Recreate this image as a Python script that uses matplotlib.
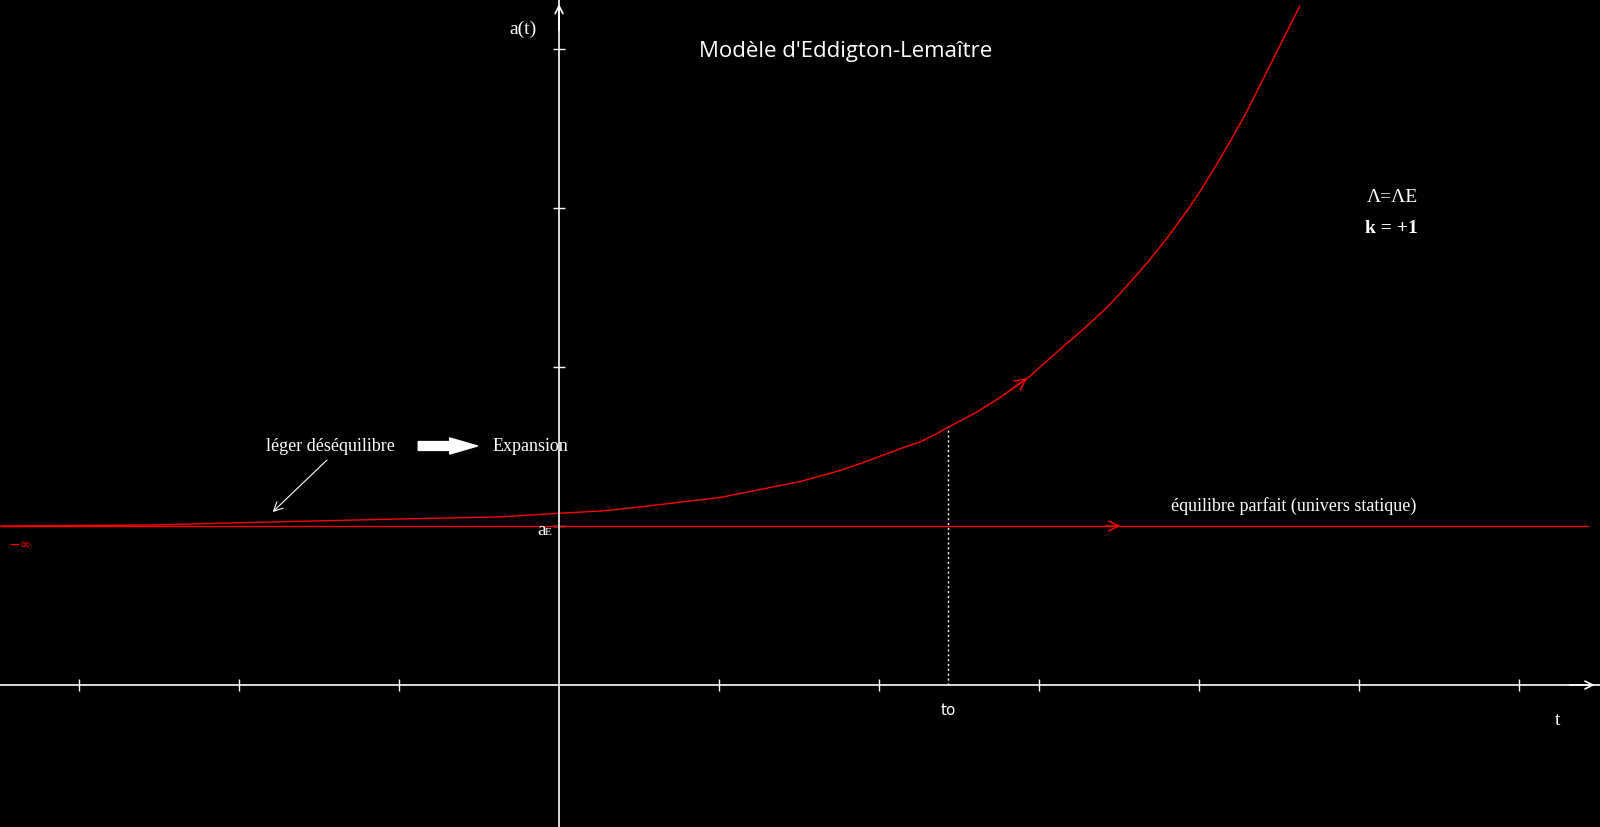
import matplotlib
matplotlib.use("Agg")
import matplotlib.pyplot as plt

# curve a(t) (t in tick units, a in tick units)
curve_t = [-3.49, -2.56, -1.81, -0.99, -0.37, 0.0, 0.26, 0.51, 0.76, 1.01, 1.26,
           1.51, 1.76, 1.89, 2.01, 2.13, 2.26, 2.35, 2.43, 2.60, 2.76, 2.94, 3.13,
           3.28, 3.43, 3.55, 3.68, 3.80, 3.93, 4.01, 4.09, 4.19, 4.29, 4.38, 4.51, 4.63]
curve_a = [1.00, 1.006, 1.025, 1.044, 1.057, 1.08, 1.094, 1.12, 1.15, 1.18, 1.23,
           1.28, 1.35, 1.395, 1.44, 1.485, 1.53, 1.575, 1.62, 1.71, 1.81, 1.94, 2.11,
           2.24, 2.38, 2.51, 2.66, 2.81, 2.99, 3.11, 3.24, 3.41, 3.59, 3.77, 4.03, 4.27]

a_E = 1.0
static_t = [-3.49, 6.43]
t0_index = 18          # t0 = 2.43
arrow_index = 21       # arrow drawn on the curve here
x_ticks = [-3, -2, -1, 1, 2, 3, 4, 5, 6]
y_ticks = [1, 2, 3, 4]

fig = plt.figure(figsize=(16, 8.28), dpi=100, facecolor="black")
ax = fig.add_axes([0, 0, 1, 1], facecolor="black")
ax.set_xlim(-3.494, 6.506)
ax.set_ylim(-0.893, 4.314)

# axes through the origin
for side in ["top", "right"]:
    ax.spines[side].set_visible(False)
ax.spines["left"].set_position(("data", 0))
ax.spines["bottom"].set_position(("data", 0))
ax.spines["left"].set_color("white")
ax.spines["bottom"].set_color("white")
ax.spines["left"].set_linewidth(1.2)
ax.spines["bottom"].set_linewidth(1.2)
ax.set_xticks(x_ticks)
ax.set_yticks(y_ticks)
ax.tick_params(direction="inout", length=8, width=1, colors="white",
               labelbottom=False, labelleft=False)

# open arrow heads at the ends of the axes
ax.annotate("", xy=(6.49, 0), xytext=(6.3, 0),
            arrowprops=dict(arrowstyle="->", color="white", lw=1.2, mutation_scale=14))
ax.annotate("", xy=(0, 4.30), xytext=(0, 4.1),
            arrowprops=dict(arrowstyle="->", color="white", lw=1.2, mutation_scale=14))

red = "#ff0000"
ax.plot(curve_t, curve_a, color=red, lw=1.0)
ax.plot(static_t, [a_E, a_E], color=red, lw=1.0)

# direction arrows on the red lines
i = arrow_index
ax.annotate("", xy=(curve_t[i], curve_a[i]), xytext=(curve_t[i - 1], curve_a[i - 1]),
            arrowprops=dict(arrowstyle="->", color=red, lw=1.0, mutation_scale=20))
ax.annotate("", xy=(3.525, a_E), xytext=(3.40, a_E),
            arrowprops=dict(arrowstyle="->", color=red, lw=1.0, mutation_scale=18))

# t0 dotted line
t0 = curve_t[t0_index]
ax.plot([t0, t0], [0, curve_a[t0_index]], color="white", lw=1.0, ls=(0, (1.5, 2)))

serif = "Liberation Serif"
ax.text(-0.225, 4.13, "a(t)", color="white", family=serif, fontsize=14,
        ha="center", va="center")
ax.text(1.79, 3.99, "Modèle d'Eddigton-Lemaître", color="white", family="Open Sans",
        fontsize=16, ha="center", va="center")
ax.text(5.21, 3.075, "Λ=ΛE", color="white", family=serif, fontsize=14,
        ha="center", va="center")
ax.text(5.20, 2.874, "k = +1", color="white", family=serif, fontsize=14,
        fontweight="bold", ha="center", va="center")
ax.text(-1.43, 1.503, "léger déséquilibre", color="white", family=serif, fontsize=13,
        ha="center", va="center")
ax.text(-0.18, 1.503, "Expansion", color="white", family=serif, fontsize=13,
        ha="center", va="center")
ax.annotate("", xy=(-0.51, 1.503), xytext=(-0.88, 1.503),
            arrowprops=dict(arrowstyle="simple,head_length=1.0,head_width=0.58,tail_width=0.32",
                            color="white", mutation_scale=20, shrinkA=0, shrinkB=0))
ax.annotate("", xy=(-1.79, 1.088), xytext=(-1.45, 1.415),
            arrowprops=dict(arrowstyle="->", color="white", lw=0.8, mutation_scale=16,
                            shrinkA=0, shrinkB=0))
ax.text(4.59, 1.13, "équilibre parfait (univers statique)", color="white", family=serif,
        fontsize=13, ha="center", va="center")
ax.text(-0.11, 0.975, "a", color="white", family=serif, fontsize=14,
        ha="center", va="center")
ax.text(-0.066, 0.965, "E", color="white", family=serif, fontsize=8,
        ha="center", va="center")
ax.text(-3.37, 0.89, "−∞", color=red, family="DejaVu Sans", fontsize=10,
        ha="center", va="center")
ax.text(t0, -0.157, "to", color="white", family="DejaVu Sans", fontsize=11,
        ha="center", va="center")
ax.text(6.24, -0.214, "t", color="white", family=serif, fontsize=14,
        ha="center", va="center")

fig.savefig("out.png", dpi=100, facecolor="black")
